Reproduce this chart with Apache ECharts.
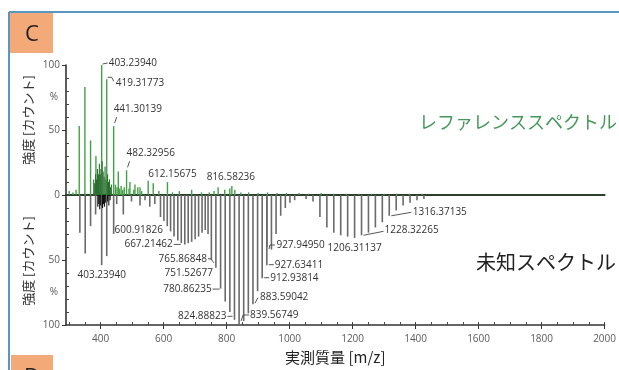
<!DOCTYPE html>
<html>
<head>
<meta charset="utf-8">
<script src="https://cdn.jsdelivr.net/npm/echarts@6/dist/echarts.min.js"></script>
<style>
  html, body { margin: 0; padding: 0; background: #ffffff; }
  #chart { width: 619px; height: 370px; }
</style>
</head>
<body>
<div id="chart"></div>
<script>
// Mirrored mass spectrum: reference spectrum (up, green) vs. unknown spectrum (down, grey).
// Peaks are [m/z, relative intensity %].

const referencePeaks = [
  [300, 3], [312, 2], [322, 4], [332, 53], [350, 83], [368, 42], [385, 30],
  [403.23940, 100], [419.31773, 89], [441.30139, 53], [456, 18], [482.32956, 19],
  [493, 10], [509, 8], [525, 6], [551, 11], [567, 9], [585, 3], [612.15675, 10],
  [628, 2], [650, 3], [689, 4], [720, 2], [745, 2], [760, 3], [773, 6], [794, 4],
  [810, 5], [816.58236, 7], [826, 4], [845, 2], [870, 2], [900, 1.5], [930, 2],
  [960, 1.5], [990, 1.5], [1030, 1.5], [1060, 1], [1100, 1.5], [1140, 1],
  [1180, 1], [1220, 1], [1260, 1], [1300, 1], [1340, 1], [1380, 1], [1420, 1],
  [447, 8], [452, 6], [460, 5], [465, 7], [470, 4], [475, 6],
  [490, 5], [505, 4], [518, 6], [530, 3]
];

// dense low-level signal around the base peak of the reference
const referenceNoise = [
  [378, 12], [381, 9], [384, 16], [387, 12], [390, 20], [393, 16], [396, 24],
  [399, 16], [401, 20], [405, 26], [408, 18], [411, 14], [414, 22], [417, 12],
  [422, 16], [425, 10], [428, 12], [431, 6], [434, 8]
];

const unknownPeaks = [
  [334, 29], [351, 45], [368, 24], [384, 15], [403.23940, 54], [419.31773, 47],
  [441.30139, 30], [451, 7], [472, 15], [498, 5], [525, 8], [541, 4], [556, 9], [572, 7],
  // envelope around 600-740
  [590, 17], [600.91826, 20], [611.5, 24], [622, 28], [633, 32], [645, 35], [656, 37],
  [667.21462, 38], [678, 37], [689, 36], [700, 34], [711, 32], [722, 29], [732, 27],
  // envelope around 740-1000
  [741, 30], [751.52677, 50], [765.86848, 56], [780.86235, 72], [795.5, 82], [810.2, 90],
  [824.88823, 96], [839.56749, 100], [854.2, 97], [868.9, 91], [883.59042, 84],
  [898.3, 74], [912.93814, 64], [927.94950, 40], [927.63411, 54], [942.3, 42],
  [957.0, 30], [971.7, 16], [986.4, 10], [1001, 6], [1016, 4],
  // envelope around 1050-1430
  [1052.2, 3], [1074.25, 5], [1096.26, 17], [1118.27, 25], [1140.28, 29], [1162.29, 31],
  [1184.30, 32], [1206.31137, 33], [1228.32265, 31], [1250.33, 29], [1272.34, 25],
  [1294.35, 21], [1316.37135, 16], [1338.38, 12], [1360.39, 8], [1382.40, 6],
  [1404.41, 4], [1426.42, 3]
];

const unknownNoise = [
  [391, 9], [394, 7], [397, 11], [400, 8], [406, 10], [409, 7],
  [412, 9], [415, 6], [422, 5], [426, 8], [430, 4]
];

const referenceLabelMz = [403.23940, 419.31773, 441.30139, 482.32956, 612.15675, 816.58236];
const unknownLabelMz = [
  403.23940, 600.91826, 667.21462, 765.86848, 751.52677, 780.86235, 824.88823,
  839.56749, 883.59042, 912.93814, 927.63411, 927.94950, 1206.31137, 1228.32265, 1316.37135
];

const massTicks = [400, 600, 800, 1000, 1200, 1400, 1600, 1800, 2000];
const massMinorTicks = [];
for (let m = 300; m <= 2000; m += 50) massMinorTicks.push(m);
const intensityMinorTicks = [-90, -80, -70, -60, -40, -30, -20, -10, 10, 20, 30, 40, 60, 70, 80, 90];

// placement of each peak annotation relative to its peak tip (pixels)
const referenceLabelLayout = [
  { align: 'left',   dx: 7,  dy: -2,  leader: [[1, -1], [6, -2]] },
  { align: 'left',   dx: 9,  dy: 4,   leader: [[1, -2], [5, -2], [7, 2]] },
  { align: 'left',   dx: 0,  dy: -17, leader: [[1, -3], [3, -9]] },
  { align: 'left',   dx: 0,  dy: -17, leader: [[1, -3], [3, -9]] },
  { align: 'center', dx: 5,  dy: -8 },
  { align: 'center', dx: -1, dy: -9 }
];
const unknownLabelLayout = [
  { align: 'center', dx: 0,    dy: 9.5 },
  { align: 'right',  dx: -1,   dy: 9 },
  { align: 'right',  dx: -12,  dy: 0,    leader: [[-11, 0], [-4, 0]] },
  { align: 'right',  dx: -9,   dy: -9,   leader: [[-8, -9], [-5, -9], [-2, -5]] },
  { align: 'right',  dx: 1.5,  dy: 13 },
  { align: 'right',  dx: -9,   dy: 0.5,  leader: [[-8, 0.5], [-1, 0.5]] },
  { align: 'right',  dx: -8,   dy: -3.5, leader: [[-7, -3.5], [-2, -3.5]] },
  { align: 'left',   dx: 11,   dy: -10,  leader: [[2, -4], [4, -10], [10, -10]] },
  { align: 'left',   dx: 7,    dy: -7,   leader: [[2, -1], [5, -6.5]] },
  { align: 'left',   dx: 8,    dy: -0.5, leader: [[2, -0.5], [7, -0.5]] },
  { align: 'left',   dx: 8,    dy: -0.5, leader: [[2, -0.5], [7, -0.5]] },
  { align: 'left',   dx: 9.5,  dy: -2,   leader: [[2, 2], [3, -2], [8, -2]] },
  { align: 'center', dx: 0,    dy: 10 },
  { align: 'left',   dx: 23,   dy: -5,   leader: [[2, 0], [22, -4]] },
  { align: 'left',   dx: 23.5, dy: -4,   leader: [[2, 0], [22, -3.5]] }
];

function lookup(peaks, mz) {
  const p = peaks.find(d => d[0] === mz);
  return p ? p[1] : 0;
}

const LABEL_FONT = '10px "Open Sans", "Liberation Sans", sans-serif';
const CJK = '"Noto Sans CJK JP", "Noto Sans", sans-serif';

function stickSeries(name, peaks, sign, color, width) {
  return {
    name: name,
    type: 'custom',
    xAxisIndex: 0,
    yAxisIndex: 0,
    silent: true,
    animation: false,
    encode: { x: 0, y: 1 },
    data: peaks.map(p => [p[0], sign * p[1]]),
    renderItem: function (params, api) {
      const mz = api.value(0);
      const v = api.value(1);
      const a = api.coord([mz, 0]);
      const b = api.coord([mz, v]);
      return {
        type: 'line',
        shape: { x1: a[0], y1: a[1], x2: b[0], y2: b[1] },
        style: { stroke: color, lineWidth: width }
      };
    }
  };
}

function labelSeries(name, labelMz, peaks, sign, layout) {
  return {
    name: name,
    type: 'custom',
    xAxisIndex: 0,
    yAxisIndex: 0,
    silent: true,
    animation: false,
    clip: false,
    encode: { x: 0, y: 1 },
    data: labelMz.map(mz => [mz, sign * lookup(peaks, mz)]),
    renderItem: function (params, api) {
      const mz = api.value(0);
      const tip = api.coord([mz, api.value(1)]);
      const L = layout[params.dataIndex];
      const children = [{
        type: 'text',
        style: {
          text: mz.toFixed(5),
          x: tip[0] + L.dx,
          y: tip[1] + L.dy,
          align: L.align,
          verticalAlign: 'middle',
          font: LABEL_FONT,
          fill: '#333333'
        }
      }];
      if (L.leader) {
        children.push({
          type: 'polyline',
          shape: { points: L.leader.map(p => [tip[0] + p[0], tip[1] + p[1]]) },
          style: { stroke: '#444', lineWidth: 0.9, fill: null }
        });
      }
      return { type: 'group', children: children };
    }
  };
}

const chart = echarts.init(document.getElementById('chart'), null, { renderer: 'canvas' });

chart.setOption({
  backgroundColor: '#ffffff',
  animation: false,
  grid: { left: 66, right: 14, top: 65, bottom: 43 },
  xAxis: [
    {
      type: 'value', min: 290, max: 2000, position: 'bottom',
      axisLine: { show: true, onZero: false, lineStyle: { color: '#333', width: 1.6 } },
      axisTick: { show: true, length: 4, customValues: massTicks, lineStyle: { color: '#333' } },
      axisLabel: {
        customValues: massTicks, formatter: v => String(v),
        fontSize: 10, fontFamily: '"Open Sans", sans-serif', color: '#5a5a5a', margin: 9
      },
      splitLine: { show: false },
      name: '実測質量 [m/z]', nameLocation: 'middle', nameGap: 25,
      nameTextStyle: { fontSize: 15, fontFamily: CJK, color: '#222' }
    },
    {
      type: 'value', min: 290, max: 2000, position: 'bottom',
      axisLine: { show: false, onZero: false },
      axisTick: { show: true, inside: true, length: 3, customValues: massMinorTicks, lineStyle: { color: '#444' } },
      axisLabel: { show: false },
      splitLine: { show: false }
    },
    {
      type: 'value', min: 290, max: 2000, position: 'bottom',
      axisLine: { show: true, onZero: true, lineStyle: { color: '#2c3f2c', width: 2 } },
      axisTick: { show: false },
      axisLabel: { show: false },
      splitLine: { show: false }
    }
  ],
  yAxis: [
    {
      type: 'value', min: -100, max: 100, interval: 50, position: 'left',
      axisLine: { show: true, lineStyle: { color: '#333', width: 1.6 } },
      axisTick: { show: true, length: 4, lineStyle: { color: '#333' } },
      axisLabel: {
        formatter: v => String(Math.abs(v)),
        fontSize: 10, fontFamily: '"Open Sans", sans-serif', color: '#5a5a5a', margin: 6
      },
      splitLine: { show: false }
    },
    {
      type: 'value', min: -100, max: 100, interval: 25, position: 'left',
      axisLine: { show: false },
      axisTick: { show: true, inside: true, length: 3, customValues: intensityMinorTicks, lineStyle: { color: '#444' } },
      axisLabel: {
        formatter: v => (Math.abs(v) === 75 ? '%' : ''),
        fontSize: 10, fontFamily: '"Open Sans", sans-serif', color: '#5a5a5a', margin: 8
      },
      splitLine: { show: false }
    }
  ],
  series: [
    stickSeries('reference', referencePeaks, 1, '#43a047', 1.4),
    stickSeries('reference-noise', referenceNoise, 1, '#2a6f30', 1.1),
    stickSeries('unknown', unknownPeaks, -1, '#6a6a6a', 1.6),
    stickSeries('unknown-noise', unknownNoise, -1, '#111111', 1.1),
    labelSeries('reference-labels', referenceLabelMz, referencePeaks, 1, referenceLabelLayout),
    labelSeries('unknown-labels', unknownLabelMz, unknownPeaks, -1, unknownLabelLayout)
  ],
  graphic: [
    // panel frame
    { type: 'line', shape: { x1: 9, y1: 12, x2: 619, y2: 12 }, style: { stroke: '#5896c4', lineWidth: 2 } },
    { type: 'line', shape: { x1: 9, y1: 12, x2: 9, y2: 370 }, style: { stroke: '#5896c4', lineWidth: 2 } },
    // panel letters
    { type: 'rect', shape: { x: 10, y: 13, width: 43, height: 40 }, style: { fill: '#f4a978' } },
    { type: 'text', x: 32, y: 35, style: { text: 'C', align: 'center', verticalAlign: 'middle', font: '22px "Open Sans", sans-serif', fill: '#222' } },
    { type: 'rect', shape: { x: 11, y: 355, width: 42, height: 20 }, style: { fill: '#f4a978' } },
    { type: 'text', x: 32, y: 378, style: { text: 'D', align: 'center', verticalAlign: 'middle', font: '22px "Open Sans", sans-serif', fill: '#222' } },
    // spectrum captions
    { type: 'text', x: 419, y: 122, style: { text: 'レファレンススペクトル', align: 'left', verticalAlign: 'middle', font: '18px ' + CJK, fill: '#46975a' } },
    { type: 'text', x: 476, y: 262, style: { text: '未知スペクトル', align: 'left', verticalAlign: 'middle', font: '20px ' + CJK, fill: '#222' } },
    // intensity axis titles
    { type: 'text', x: 28, y: 120, rotation: Math.PI / 2, style: { text: '強度 [カウント]', align: 'center', verticalAlign: 'middle', font: '13px ' + CJK, fill: '#333' } },
    { type: 'text', x: 28, y: 261, rotation: Math.PI / 2, style: { text: '強度 [カウント]', align: 'center', verticalAlign: 'middle', font: '13px ' + CJK, fill: '#333' } }
  ]
});
</script>
</body>
</html>
